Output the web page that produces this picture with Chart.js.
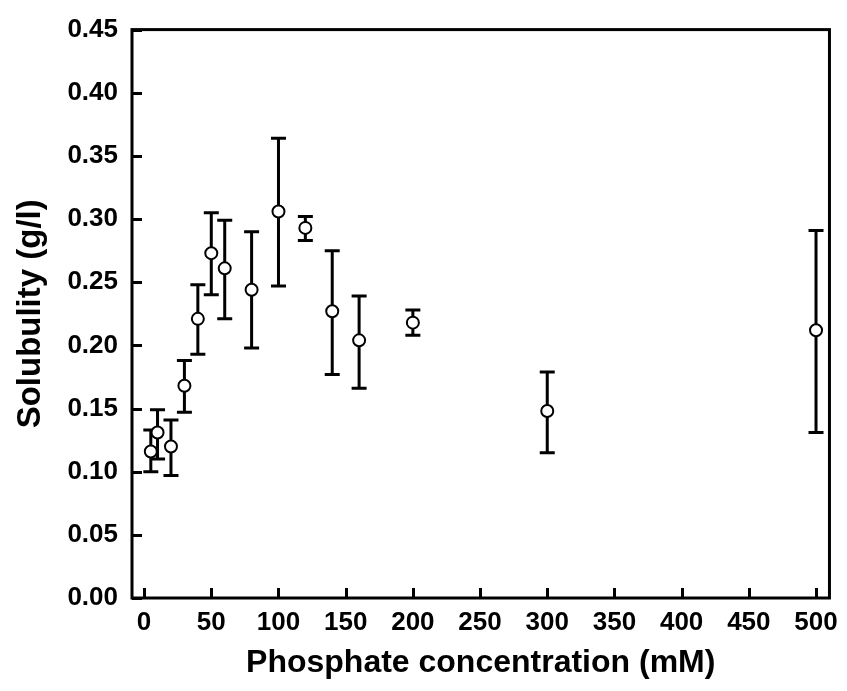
<!DOCTYPE html>
<html><head><meta charset="utf-8">
<script src="https://cdn.jsdelivr.net/npm/chart.js@4/dist/chart.umd.min.js"></script>
<style>html,body{margin:0;padding:0;background:#fff}#wrap{width:847px;height:691px}</style>
</head><body><div id="wrap"><canvas id="c" width="847" height="691"></canvas></div>
<script>
const concentrations = [5, 10, 20, 30, 40, 50, 60, 80, 100, 120, 140, 160, 200, 300, 500];
const solubility = [0.116, 0.131, 0.120, 0.168, 0.221, 0.273, 0.261, 0.244, 0.306, 0.293, 0.227, 0.204, 0.218, 0.148, 0.212];
const errLow = [0.100, 0.110, 0.097, 0.147, 0.193, 0.240, 0.221, 0.198, 0.247, 0.283, 0.177, 0.166, 0.208, 0.115, 0.131];
const errHigh = [0.133, 0.149, 0.141, 0.188, 0.248, 0.305, 0.299, 0.290, 0.364, 0.302, 0.275, 0.239, 0.228, 0.179, 0.291];
const xTickValues = [0, 50, 100, 150, 200, 250, 300, 350, 400, 450, 500];
const yTickValues = [0, 0.05, 0.10, 0.15, 0.20, 0.25, 0.30, 0.35, 0.40, 0.45];
const xTitle = 'Phosphate concentration (mM)';
const yTitle = 'Solubulity (g/l)';

const FONT = '"Liberation Sans", Arial, sans-serif';

const decor = {
  id: 'decor',
  beforeDatasetsDraw(chart) {
    const ctx = chart.ctx, a = chart.chartArea;
    const xs = chart.scales.x, ys = chart.scales.y;
    ctx.save();
    ctx.strokeStyle = '#000';
    ctx.lineWidth = 3;
    ctx.lineCap = 'butt';
    const tl = 10;
    ctx.beginPath();
    xTickValues.forEach(v => {
      const px = Math.round(xs.getPixelForValue(v)) + 0.5;
      ctx.moveTo(px, a.bottom); ctx.lineTo(px, a.bottom - tl);
    });
    yTickValues.forEach(v => {
      const py = Math.round(ys.getPixelForValue(v)) + 0.5;
      ctx.moveTo(a.left, py); ctx.lineTo(a.left + tl, py);
    });
    ctx.stroke();
    ctx.strokeRect(a.left, a.top, a.right - a.left, a.bottom - a.top);
    ctx.lineWidth = 3;
    ctx.beginPath();
    concentrations.forEach((c, i) => {
      const px = xs.getPixelForValue(c);
      const lo = ys.getPixelForValue(errLow[i]);
      const hi = ys.getPixelForValue(errHigh[i]);
      ctx.moveTo(px, lo); ctx.lineTo(px, hi);
      ctx.moveTo(px - 7.5, lo); ctx.lineTo(px + 7.5, lo);
      ctx.moveTo(px - 7.5, hi); ctx.lineTo(px + 7.5, hi);
    });
    ctx.stroke();
    ctx.restore();
  }
};

new Chart(document.getElementById('c'), {
  type: 'scatter',
  data: {
    datasets: [{
      data: concentrations.map((c, i) => ({x: c, y: solubility[i]})),
      pointRadius: 6,
      pointHoverRadius: 6,
      pointBackgroundColor: '#fff',
      pointBorderColor: '#000',
      pointBorderWidth: 2,
      showLine: false
    }]
  },
  options: {
    responsive: false,
    devicePixelRatio: 1,
    animation: false,
    layout: {padding: {top: 28, right: 15, bottom: 0, left: 0}},
    plugins: {legend: {display: false}, tooltip: {enabled: false}},
    scales: {
      x: {
        type: 'linear', min: -9, max: 510,
        afterBuildTicks: ax => { ax.ticks = xTickValues.map(v => ({value: v})); },
        afterFit: ax => { ax.height = 93; },
        grid: {display: false, drawTicks: false},
        border: {display: false},
        ticks: {color: '#000', padding: 9, maxRotation: 0, autoSkip: false,
          font: {family: FONT, size: 26, weight: 'bold'}},
        title: {display: true, text: xTitle, color: '#000',
          padding: {top: 0, bottom: 9},
          font: {family: FONT, size: 32, weight: 'bold'}}
      },
      y: {
        type: 'linear', min: 0, max: 0.45,
        afterBuildTicks: ax => { ax.ticks = yTickValues.map(v => ({value: v})); },
        afterFit: ax => { ax.width = 132; },
        grid: {display: false, drawTicks: false},
        border: {display: false},
        ticks: {color: '#000', padding: 14, autoSkip: false,
          callback: v => Number(v).toFixed(2),
          font: {family: FONT, size: 26, weight: 'bold'}},
        title: {display: true, text: yTitle, color: '#000',
          padding: {top: 11, bottom: 0},
          font: {family: FONT, size: 33, weight: 'bold'}}
      }
    }
  },
  plugins: [decor]
});
</script>
</body></html>
